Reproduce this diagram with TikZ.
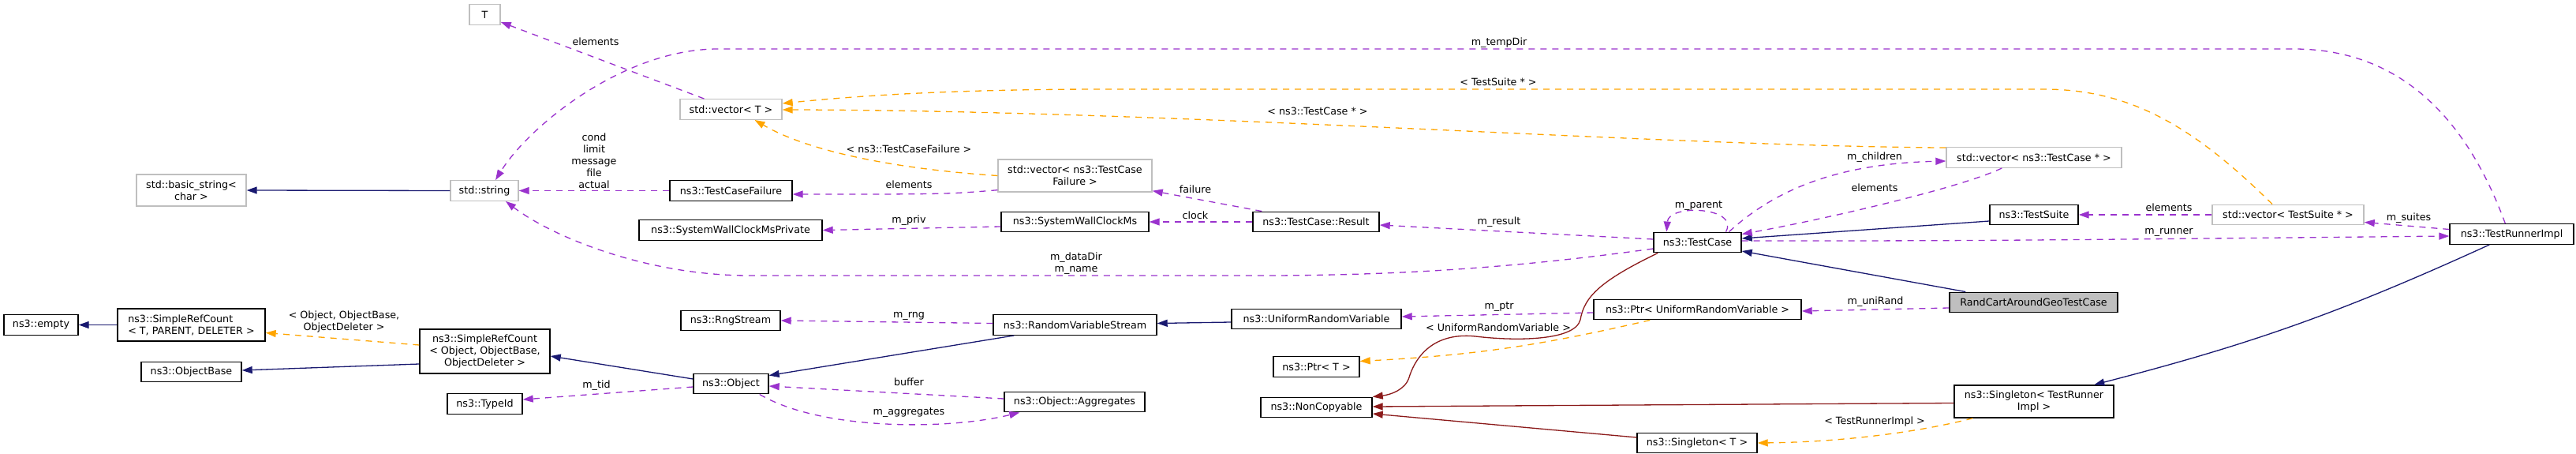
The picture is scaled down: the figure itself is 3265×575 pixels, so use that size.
\documentclass[tikz,border=0pt]{standalone}
\usepackage{fontspec}
\setmainfont{DejaVu Sans}
\usetikzlibrary{arrows.meta,calc}
\definecolor{azulher}{HTML}{191970}
\definecolor{rojoher}{HTML}{8B1A1A}
\definecolor{naranja}{HTML}{FFA500}
\definecolor{violeta}{HTML}{9A32CD}
\definecolor{grisclase}{HTML}{BFBFBF}
\newcommand{\letra}{\fontsize{12.7}{15}\selectfont}
\tikzstyle{clase} = [draw=black, fill=white, line width=1.4pt, rectangle, inner sep=0pt, minimum height=25.5pt, align=center, font=\letra]
\tikzstyle{claseext} = [clase, draw=grisclase]
\tikzstyle{actual} = [clase, fill=grisclase]
\tikzstyle{flecha} = [line width=1.3pt, -{Triangle[length=13pt,width=9pt]}]
\tikzstyle{herencia} = [flecha, draw=azulher]
\tikzstyle{herpriv} = [flecha, draw=rojoher]
\tikzstyle{plantilla} = [flecha, draw=naranja, dash pattern=on 8pt off 7pt]
\tikzstyle{uso} = [flecha, draw=violeta, dash pattern=on 8pt off 7pt]
\tikzstyle{etiqueta} = [inner sep=0pt, align=center, font=\letra]

\begin{document}
\begin{tikzpicture}[x=1pt,y=-1pt]
	\useasboundingbox (0,0) rectangle (3265,575);
	% clases de la biblioteca estandar
	\node[claseext, minimum width=39pt] (T) at (614.5,18.5) {T};
	\node[claseext, minimum width=129pt] (vecT) at (926.5,138.5) {std::vector< T >};
	\node[claseext, minimum width=139pt, minimum height=40pt] (bstr) at (242.5,241) {std::basic\_string<\\char >};
	\node[claseext, minimum width=86pt] (str) at (614,241.5) {std::string};
	\node[claseext, minimum width=195pt, minimum height=41pt] (vecTCF) at (1362.5,222.5) {std::vector< ns3::TestCase\\Failure >};
	\node[claseext, minimum width=222pt] (vecTC) at (2578,199.5) {std::vector< ns3::TestCase * >};
	\node[claseext, minimum width=192pt] (vecTS) at (2900,272) {std::vector< TestSuite * >};
	% clases ns3
	\node[clase, minimum width=94pt] (empty) at (52,411.5) {ns3::empty};
	\node[clase, minimum width=187pt, minimum height=41pt, align=left] (srcT) at (242.5,411.5) {ns3::SimpleRefCount\\< T, PARENT, DELETER >};
	\node[clase, minimum width=127pt] (obase) at (242.5,471) {ns3::ObjectBase};
	\node[clase, minimum width=165pt, minimum height=56pt] (srcObj) at (614.5,445) {ns3::SimpleRefCount\\< Object, ObjectBase,\\ObjectDeleter >};
	\node[clase, minimum width=95pt] (typeid) at (614.5,511.5) {ns3::TypeId};
	\node[clase, minimum width=155pt] (tcf) at (926.5,241.5) {ns3::TestCaseFailure};
	\node[clase, minimum width=232pt] (swcmp) at (926,291.5) {ns3::SystemWallClockMsPrivate};
	\node[clase, minimum width=126pt] (rng) at (926,406) {ns3::RngStream};
	\node[clase, minimum width=95pt] (obj) at (926.5,486) {ns3::Object};
	\node[clase, minimum width=187pt] (swcm) at (1362.5,281) {ns3::SystemWallClockMs};
	\node[clase, minimum width=207pt] (rvs) at (1362.5,411.5) {ns3::RandomVariableStream};
	\node[clase, minimum width=178pt] (agg) at (1362,509) {ns3::Object::Aggregates};
	\node[clase, minimum width=160pt] (result) at (1668,281) {ns3::TestCase::Result};
	\node[clase, minimum width=215pt] (urv) at (1668.5,404) {ns3::UniformRandomVariable};
	\node[clase, minimum width=109pt] (ptrT) at (1668.5,464.5) {ns3::Ptr< T >};
	\node[clase, minimum width=141pt] (noncopy) at (1668.5,516) {ns3::NonCopyable};
	\node[clase, minimum width=111pt] (tc) at (2151.5,307) {ns3::TestCase};
	\node[clase, minimum width=263pt] (ptrURV) at (2151.5,392) {ns3::Ptr< UniformRandomVariable >};
	\node[clase, minimum width=152pt] (singT) at (2151,561) {ns3::Singleton< T >};
	\node[clase, minimum width=112pt] (ts) at (2578,272) {ns3::TestSuite};
	\node[actual, minimum width=213pt] (rand) at (2577.5,383) {RandCartAroundGeoTestCase};
	\node[clase, minimum width=202pt, minimum height=41pt] (singTRI) at (2578,508.5) {ns3::Singleton< TestRunner\\Impl >};
	\node[clase, minimum width=157pt] (tri) at (3183.5,296.5) {ns3::TestRunnerImpl};

	% herencia
	\draw[herencia] (srcT.west) -- (empty.east);
	\draw[herencia] (str.west) -- (bstr.east);
	\draw[herencia] ($(srcObj.west)+(0,16)$) -- ($(obase.east)+(0,-2)$);
	\draw[herencia] ($(obj.west)+(0,-6)$) -- ($(srcObj.east)+(0,6)$);
	\draw[herencia] ($(rvs.south west)+(27,0)$) -- ($(obj.north east)+(0,3)$);
	\draw[herencia] ($(urv.west)+(0,4)$) -- ($(rvs.east)+(0,-2)$);
	\draw[herencia] ($(ts.west)+(0,8)$) -- ($(tc.east)+(0,-5)$);
	\draw[herencia] ($(rand.north west)+(21,0)$) -- ($(tc.east)+(0,11)$);
	\draw[herencia] ($(tri.south west)+(51,0)$) to[bend left=5] ($(singTRI.north west)+(178,0)$);
	\draw[herpriv] ($(tc.south west)+(6,0)$) .. controls (2030,355) and (2008,375) .. (2003,405)
		.. controls (1996,432) and (1920,432) .. (1870,426)
		.. controls (1812,420) and (1792,458) .. (1786,478)
		.. controls (1781,494) and (1762,500) .. (noncopy.north east);
	\draw[herpriv] ($(singTRI.west)+(0,2)$) -- ($(noncopy.east)+(0,-1)$);
	\draw[herpriv] ($(singT.west)+(0,-7)$) -- ($(noncopy.east)+(0,8)$);

	% plantillas
	\draw[plantilla] ($(srcObj.west)+(0,-8)$) -- ($(srcT.east)+(0,10)$);
	\draw[plantilla] (vecTCF.west) .. controls (1150,215) and (1030,195) .. ($(vecT.south)+(30,0)$);
	\draw[plantilla] ($(vecTC.north west)+(0,1)$) .. controls (2100,185) and (1500,140) .. ($(vecT.east)+(0,0.5)$);
	\draw[plantilla] ($(vecTS.north)+(-20,0)$) .. controls (2780,160) and (2700,113) .. (2590,113)
		-- (1400,113) .. controls (1200,113) and (1080,122) .. ($(vecT.east)+(0,-7.5)$);
	\draw[plantilla] ($(ptrURV.south west)+(72,0)$) to[bend left=5] ($(ptrT.east)+(0,-7)$);
	\draw[plantilla] ($(singTRI.south west)+(24,0)$) .. controls (2430,548) and (2330,560) .. (singT.east);

	% miembros
	\draw[uso] (tcf.west) -- (str.east);
	\draw[uso] ($(vecT.north)+(-34,0)$) -- ($(T.south east)+(0,-4)$);
	\draw[uso] ($(tri.north west)+(71,0)$) .. controls (3130,160) and (3050,62) .. (2907,62)
		-- (910,62) .. controls (790,62) and (670,160) .. ($(str.north)+(14,0)$);
	\draw[uso] ($(tc.west)+(0,8)$) .. controls (1950,335) and (1800,349) .. (1600,349)
		-- (950,349) .. controls (820,349) and (700,300) .. ($(str.south)+(27,0)$);
	\draw[uso] ($(vecTCF.south west)+(0,-3)$) .. controls (1200,246) .. ($(tcf.east)+(0,4.5)$);
	\draw[uso] ($(result.north west)+(12,0)$) -- ($(vecTCF.south east)+(0,-2)$);
	\draw[uso] (result.west) -- (swcm.east);
	\draw[uso] ($(swcm.west)+(0,6)$) -- (swcmp.east);
	\draw[uso] ($(tc.west)+(0,-4)$) -- ($(result.east)+(0,4)$);
	\draw[uso] ($(tc.north)+(36,0)$) .. controls (2205,262) and (2115,258) .. ($(tc.north west)+(17,0)$);
	\draw[uso] ($(tc.north)+(40,0)$) .. controls (2250,240) and (2330,207) .. ($(vecTC.west)+(0,4.5)$);
	\draw[uso] ($(vecTC.south west)+(71,0)$) .. controls (2480,240) and (2300,280) .. ($(tc.north east)+(0,3)$);
	\draw[uso] (vecTS.west) -- (ts.east);
	\draw[uso] ($(tri.west)+(0,-6)$) -- ($(vecTS.south east)+(0,-4)$);
	\draw[uso] ($(tc.east)+(0,-2)$) .. controls (2500,305) .. ($(tri.west)+(0,2.5)$);
	\draw[uso] ($(rand.west)+(0,7)$) -- ($(ptrURV.east)+(0,2)$);
	\draw[uso] ($(ptrURV.west)+(0,4)$) -- ($(urv.east)+(0,-3)$);
	\draw[uso] ($(rvs.west)+(0,-2)$) -- (rng.east);
	\draw[uso] ($(obj.west)+(0,4)$) -- ($(typeid.east)+(0,-5.5)$);
	\draw[uso] ($(agg.west)+(0,-4)$) -- ($(obj.east)+(0,3)$);
	\draw[uso] ($(obj.south east)+(-12,0)$) .. controls (1040,545) and (1200,545) .. ($(agg.south west)+(20,0)$);

	% etiquetas
	\node[etiqueta] (lElemT) at (755,53) {elements};
	\node[etiqueta] (lTemp) at (1900,54) {m\_tempDir};
	\node[etiqueta] (lVecTS) at (1899,104) {< TestSuite * >};
	\node[etiqueta] (lVecTC) at (1670,141) {< ns3::TestCase * >};
	\node[etiqueta] (lVecTCF) at (1152,189) {< ns3::TestCaseFailure >};
	\node[etiqueta] (lCond) at (753,203.5) {cond\\limit\\message\\file\\actual};
	\node[etiqueta] (lChild) at (2376,199) {m\_children};
	\node[etiqueta] (lElemTCF) at (1152,234) {elements};
	\node[etiqueta] (lElemTC) at (2376,238) {elements};
	\node[etiqueta] (lFail) at (1515,240) {failure};
	\node[etiqueta] (lParent) at (2153,261) {m\_parent};
	\node[etiqueta] (lElemTS) at (2749,263) {elements};
	\node[etiqueta] (lClock) at (1515,273) {clock};
	\node[etiqueta] (lSuites) at (3053,276) {m\_suites};
	\node[etiqueta] (lPriv) at (1152,279) {m\_priv};
	\node[etiqueta] (lResult) at (1900,281) {m\_result};
	\node[etiqueta] (lRunner) at (2749,294) {m\_runner};
	\node[etiqueta] (lData) at (1364,333.5) {m\_dataDir\\m\_name};
	\node[etiqueta] (lUni) at (2377,382) {m\_uniRand};
	\node[etiqueta] (lPtr) at (1900,389) {m\_ptr};
	\node[etiqueta] (lRng) at (1152,400) {m\_rng};
	\node[etiqueta] (lSrc) at (436,407.5) {< Object, ObjectBase,\\ObjectDeleter >};
	\node[etiqueta] (lPtrURV) at (1899,415) {< UniformRandomVariable >};
	\node[etiqueta] (lBuf) at (1152,484) {buffer};
	\node[etiqueta] (lTid) at (756,488) {m\_tid};
	\node[etiqueta] (lAgg) at (1152,523) {m\_aggregates};
	\node[etiqueta] (lSing) at (2376,534) {< TestRunnerImpl >};
\end{tikzpicture}
\end{document}
